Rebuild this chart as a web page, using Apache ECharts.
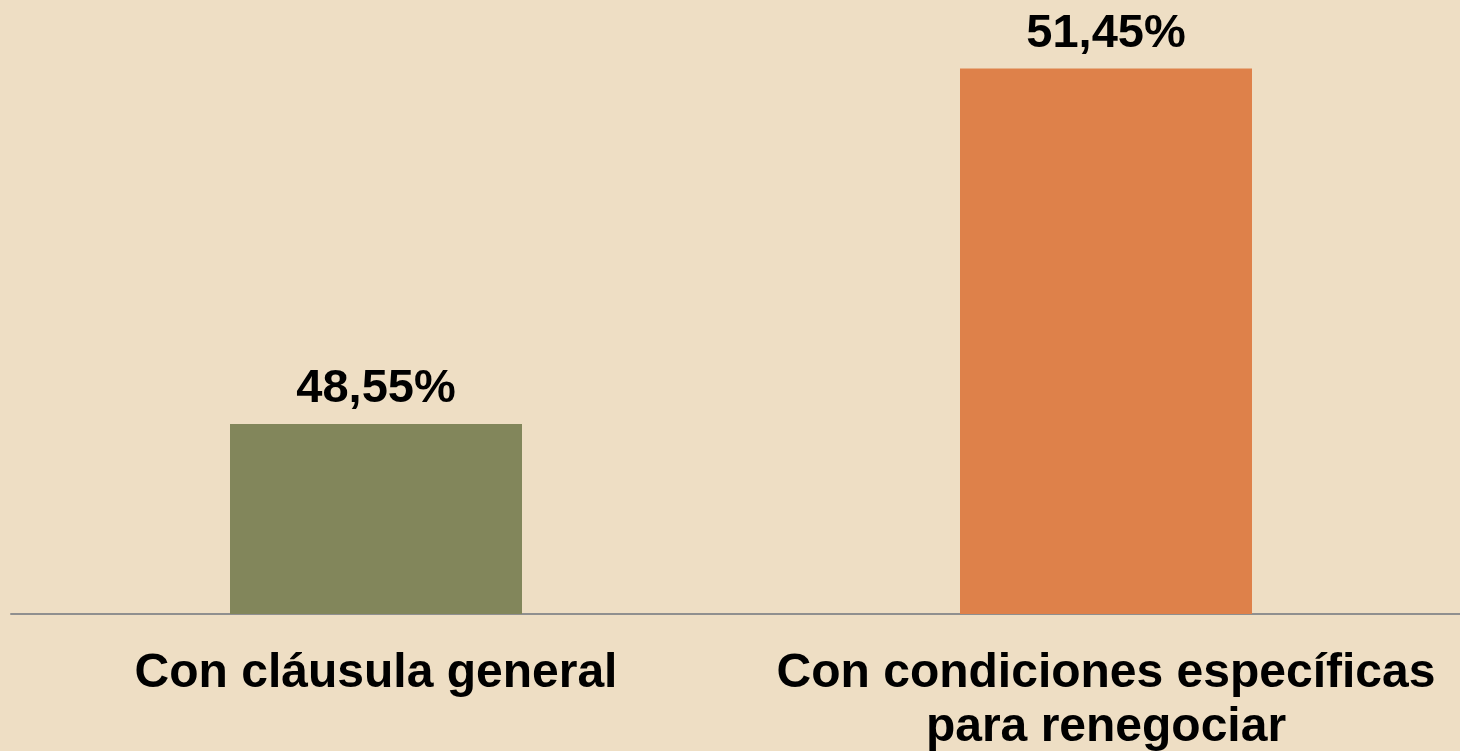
<!DOCTYPE html>
<html lang="es">
  <head>
    <meta charset="utf-8" />
    <title>Cláusulas</title>
    <script src="https://cdn.jsdelivr.net/npm/echarts@6/dist/echarts.min.js"></script>
    <style>
      html, body { margin: 0; padding: 0; background: #eedec4; }
      #main { width: 1460px; height: 751px; }
    </style>
  </head>
  <body>
    <div id="main"></div>
    <script>
      var categories = ["Con cláusula general", "Con condiciones específicas\npara renegociar"];
      var values = [48.55, 51.45];
      var barColors = ["#82865b", "#de814a"];

      var chart = echarts.init(document.getElementById("main"));

      var option = {
        backgroundColor: "#eedec4",
        animation: false,
        grid: {
          left: 11,
          right: -11,
          top: 1,
          bottom: 137,
          containLabel: false,
          outerBoundsMode: "none"
        },
        xAxis: {
          type: "category",
          data: categories,
          axisLine: { lineStyle: { color: "#8f8f8f", width: 2 } },
          axisTick: { show: false },
          axisLabel: {
            color: "#000",
            fontFamily: "Liberation Sans, Arial, sans-serif",
            fontWeight: "bold",
            fontSize: 48,
            lineHeight: 54,
            margin: 33,
            interval: 0
          }
        },
        yAxis: {
          type: "value",
          min: 47,
          max: 52,
          show: false,
          splitLine: { show: false }
        },
        series: [
          {
            type: "bar",
            barWidth: "40%",
            data: values.map(function (v, i) {
              return { value: v, itemStyle: { color: barColors[i] } };
            }),
            label: {
              show: true,
              position: "top",
              distance: 11,
              color: "#000",
              fontFamily: "Liberation Sans, Arial, sans-serif",
              fontWeight: "bold",
              fontSize: 47,
              formatter: function (p) {
                return p.value.toFixed(2).replace(".", ",") + "%";
              }
            }
          }
        ]
      };

      chart.setOption(option);
    </script>
  </body>
</html>
